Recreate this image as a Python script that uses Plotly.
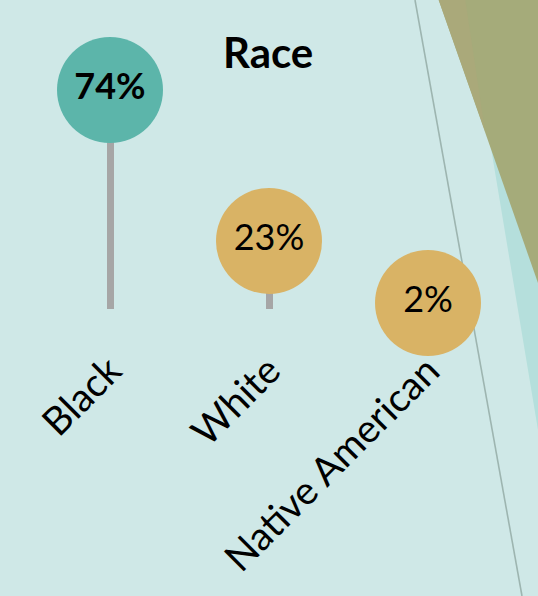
import plotly.graph_objects as go

categories = ["Black", "White", "Native American"]
values = [74, 23, 2]
value_labels = ["74%", "23%", "2%"]
title_text = "Race"

W, H = 538, 596
BG = "#cfe8e7"
FONT = "Lato"

marker_colors = ["#5cb5aa" if v == max(values) else "#d9b365" for v in values]
texts = [f"<b>{t}</b>" if v == max(values) else t for t, v in zip(value_labels, values)]

fig = go.Figure()
fig.add_trace(go.Bar(
    x=categories, y=values, width=0.044,
    marker=dict(color="#a6a6a6", line=dict(width=0)),
    hoverinfo="skip",
))
fig.add_trace(go.Scatter(
    x=categories, y=values, mode="markers+text",
    marker=dict(size=106, color=marker_colors, line=dict(width=0), opacity=1),
    text=texts, textposition="middle center",
    textfont=dict(family=FONT, size=36, color="#000000"),
    cliponaxis=False,
))

# decorative background shapes (paper coords; plot area spans px y 0..309)
def px2paper(px, py):
    return px / W, (309 - py) / 309

def path(points):
    pts = [px2paper(x, y) for x, y in points]
    return "M " + " L ".join(f"{x:.4f},{y:.4f}" for x, y in pts) + " Z"

shapes = []
shapes.append(dict(type="path", xref="paper", yref="paper", layer="below",
                   path=path([(473, 40), (560, 40), (560, 600), (538, 600), (538, 430)]),
                   fillcolor="#b5dfdc", line=dict(width=0)))
shapes.append(dict(type="path", xref="paper", yref="paper", layer="below",
                   path=path([(438, -2), (560, -2), (560, 283), (538, 283)]),
                   fillcolor="#a5ab7a", line=dict(width=0)))
shapes.append(dict(type="path", xref="paper", yref="paper", layer="below",
                   path=path([(438, -2), (465, -2), (485, 131)]),
                   fillcolor="#aaa97a", line=dict(width=0)))
x0, y0 = px2paper(415, 0)
x1, y1 = px2paper(522, 596)
shapes.append(dict(type="line", xref="paper", yref="paper", layer="below",
                   x0=x0, y0=y0, x1=x1, y1=y1,
                   line=dict(color="#9db5b0", width=1.6)))

fig.update_layout(
    width=W, height=H,
    margin=dict(l=0, r=0, t=0, b=H - 309),
    paper_bgcolor=BG, plot_bgcolor="rgba(0,0,0,0)",
    showlegend=False,
    shapes=shapes,
    annotations=[dict(text=f"<b>{title_text}</b>", xref="paper", yref="paper",
                      x=268 / W, y=(309 - 52) / 309, showarrow=False,
                      xanchor="center", yanchor="middle",
                      font=dict(family=FONT, size=42, color="#000000"))],
    bargap=0,
)
fig.update_xaxes(range=[-110 / 159, (538 - 110) / 159], showgrid=False, zeroline=False,
                 showline=False, ticks="", tickangle=-45,
                 tickfont=dict(family=FONT, size=39, color="#000000"),
                 ticklabelstandoff=30)
fig.update_yaxes(range=[0, 309 / 2.96], visible=False, showgrid=False, zeroline=False)

fig.write_html("out.html", config={"displayModeBar": False},
               post_script="document.body.style.margin='0';document.body.style.overflow='hidden';")
